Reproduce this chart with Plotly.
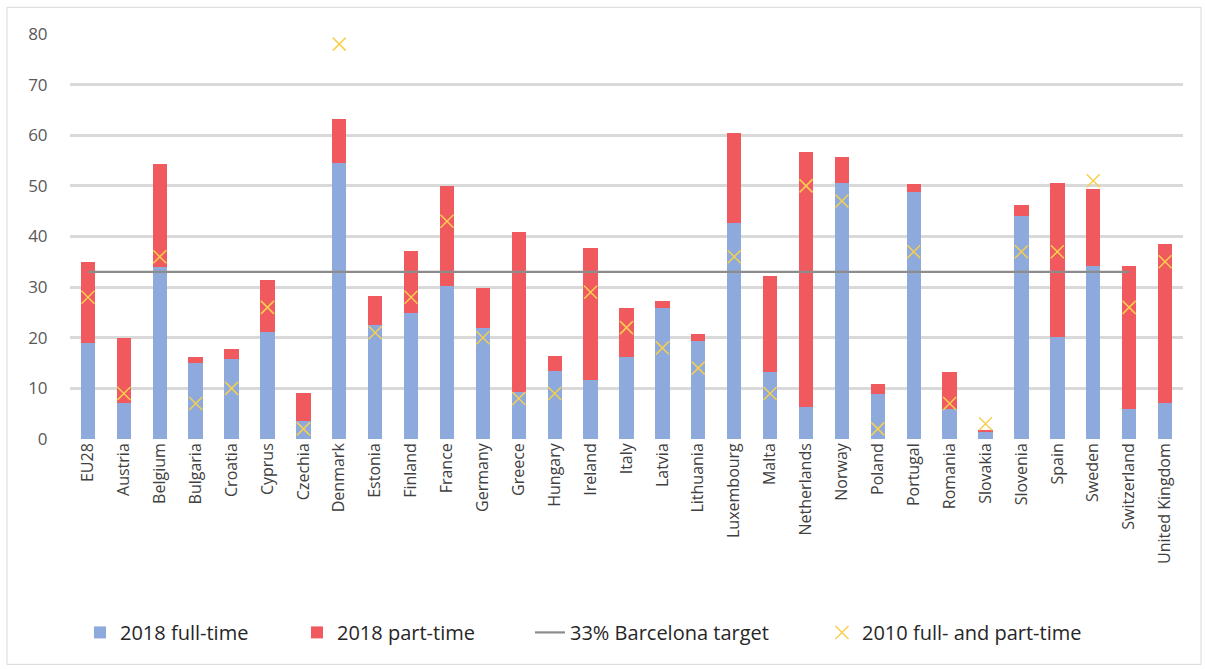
import plotly.graph_objects as go

categories = ["EU28", "Austria", "Belgium", "Bulgaria", "Croatia", "Cyprus", "Czechia", "Denmark",
              "Estonia", "Finland", "France", "Germany", "Greece", "Hungary", "Ireland", "Italy",
              "Latvia", "Lithuania", "Luxembourg", "Malta", "Netherlands", "Norway", "Poland",
              "Portugal", "Romania", "Slovakia", "Slovenia", "Spain", "Sweden", "Switzerland",
              "United Kingdom"]
full_time_2018 = [18.9, 7.1, 34.0, 15.1, 15.8, 21.2, 3.6, 54.6, 22.5, 24.8, 30.3, 22.0, 9.3, 13.5,
                  11.6, 16.2, 25.8, 19.4, 42.6, 13.2, 6.4, 50.5, 8.9, 48.8, 5.9, 1.4, 44.0, 20.1,
                  34.2, 5.9, 7.1]
part_time_2018 = [16.1, 12.9, 20.3, 1.1, 2.0, 10.2, 5.5, 8.6, 5.8, 12.4, 19.7, 7.9, 31.5, 2.9,
                  26.1, 9.6, 1.5, 1.4, 17.9, 19.0, 50.3, 5.2, 2.0, 1.5, 7.3, 0.3, 2.3, 30.4,
                  15.1, 28.3, 31.4]
total_2010 = [28, 9, 36, 7, 10, 26, 2, 78, 21, 28, 43, 20, 8, 9, 29, 22, 18, 14, 36, 9, 50, 47, 2,
              37, 7, 3, 37, 37, 51, 26, 35]
barcelona_target = 33
barcelona_categories = categories[:-1]

L, R, T, B = 70.0, 22.0, 33.7, 229.7
pw = 1205 - L - R
ph = 669 - T - B


def px_x(p):
    return (p - L) / pw


def px_y(p):
    return (669 - B - p) / ph


fig = go.Figure()
fig.add_trace(go.Bar(x=categories, y=full_time_2018, name="2018 full-time",
                     marker=dict(color="#8EA9DB", line=dict(width=0)), width=0.4,
                     legend="legend"))
fig.add_trace(go.Bar(x=categories, y=part_time_2018, name="2018 part-time",
                     marker=dict(color="#F05A5E", line=dict(width=0)), width=0.4,
                     legend="legend2"))
fig.add_trace(go.Scatter(x=barcelona_categories, y=[barcelona_target] * len(barcelona_categories),
                         mode="lines", name="33% Barcelona target",
                         line=dict(color="#8C8C8C", width=2.2), legend="legend3"))
fig.add_trace(go.Scatter(x=categories, y=total_2010, mode="markers",
                         name="2010 full- and part-time",
                         marker=dict(symbol="x-thin", size=13, color="#F7CF4F",
                                     line=dict(color="#F7CF4F", width=1.5)),
                         legend="legend4"))

fig.add_shape(type="rect", xref="paper", yref="paper",
              x0=px_x(7), x1=px_x(1201), y0=px_y(665), y1=px_y(7),
              line=dict(color="#D9D9D9", width=1), fillcolor="rgba(0,0,0,0)", layer="below")

legend_font = dict(family="Liberation Sans Narrow, Open Sans", size=20, color="#262626")
leg_y = px_y(633)


def leg(xp):
    return dict(orientation="h", x=px_x(xp), xanchor="left", y=leg_y, yanchor="middle",
                font=legend_font, bgcolor="rgba(0,0,0,0)", itemwidth=30)


fig.update_layout(
    width=1205, height=669,
    margin=dict(l=L, r=R, t=T, b=B, autoexpand=False),
    barmode="stack",
    plot_bgcolor="white", paper_bgcolor="white",
    font=dict(family="Open Sans", color="#595959"),
    showlegend=True,
    legend=leg(80),
    legend2=leg(297),
    legend3=leg(530),
    legend4=leg(822),
    xaxis=dict(tickangle=-90, tickfont=dict(size=16, color="#404040"), showgrid=False,
               showline=False, ticks="", automargin=False, range=[-0.5, 30.5]),
    yaxis=dict(range=[0, 80], dtick=10, gridcolor="#D9D9D9", gridwidth=3,
               tickfont=dict(size=17, color="#595959"), zeroline=False,
               ticks="outside", ticklen=18, tickcolor="rgba(0,0,0,0)", automargin=False),
)
fig.write_html("out.html")
